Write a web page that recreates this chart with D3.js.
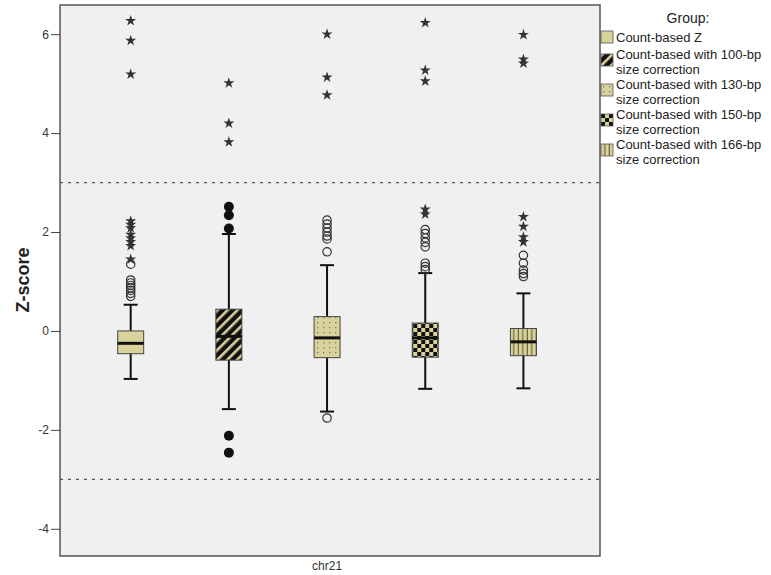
<!DOCTYPE html>
<html>
<head>
<meta charset="utf-8">
<script src="https://cdn.jsdelivr.net/npm/d3@7"></script>
<style>
  body { margin: 0; background: #fff; }
  svg { display: block; font-family: "Liberation Sans", Arial, sans-serif; }
</style>
</head>
<body>
<svg id="chart" width="771" height="575"></svg>
<script>
const groups = ['Count-based Z', 'Count-based with 100-bp size correction', 'Count-based with 130-bp size correction',
  'Count-based with 150-bp size correction', 'Count-based with 166-bp size correction'];
const patterns = ['plain', 'diag', 'dots', 'checker', 'vstripes'];
const q1 = [-0.46, -0.59, -0.54, -0.53, -0.50];
const medians = [-0.25, -0.11, -0.14, -0.14, -0.22];
const q3 = [0.0, 0.44, 0.29, 0.16, 0.05];
const whiskerLow = [-0.97, -1.58, -1.63, -1.17, -1.16];
const whiskerHigh = [0.53, 1.96, 1.33, 1.17, 0.76];
// outliers (circles) and extremes (stars), one list per group
const circles = [
  [1.35, 1.03, 0.97, 0.92, 0.87, 0.82, 0.76, 0.70],
  [],
  [2.24, 2.16, 2.08, 2.0, 1.92, 1.86, 1.60, -1.76],
  [2.05, 1.97, 1.88, 1.79, 1.70, 1.37, 1.30, 1.24],
  [1.53, 1.37, 1.23, 1.16, 1.10]
];
const filledCircles = [[], [2.51, 2.34, 2.07, -2.12, -2.46], [], [], []];
const stars = [
  [6.27, 5.87, 5.19, 2.22, 2.15, 2.08, 1.95, 1.88, 1.80, 1.72, 1.45],
  [5.01, 4.20, 3.82],
  [6.00, 5.13, 4.77],
  [6.23, 5.27, 5.05, 2.46, 2.36],
  [5.99, 5.49, 5.41, 2.31, 2.11, 1.90, 1.80]
];
const yTicks = [-4, -2, 0, 2, 4, 6];
const refLines = [3, -3];
const xLabel = 'chr21';

const fill = '#d9d29b';
const svg = d3.select('#chart');
const plot = { left: 60, right: 600, top: 5, bottom: 556 };

const y = d3.scaleLinear().domain([-4.55, 6.59]).range([plot.bottom, plot.top]);
const x = d3.scalePoint().domain(groups).range([plot.left, plot.right]).padding(0.75).align(0.48);

// patterns
const defs = svg.append('defs');
const pDiag = defs.append('pattern').attr('id', 'p-diag').attr('patternUnits', 'userSpaceOnUse')
  .attr('width', 7).attr('height', 7).attr('patternTransform', 'rotate(45)');
pDiag.append('rect').attr('width', 7).attr('height', 7).attr('fill', '#111');
pDiag.append('rect').attr('width', 2.6).attr('height', 7).attr('fill', fill);

const pDots = defs.append('pattern').attr('id', 'p-dots').attr('patternUnits', 'userSpaceOnUse')
  .attr('width', 6).attr('height', 5);
pDots.append('rect').attr('width', 6).attr('height', 5).attr('fill', fill);
pDots.append('rect').attr('x', 2).attr('y', 2).attr('width', 1.3).attr('height', 1.3).attr('fill', '#777');

const pChk = defs.append('pattern').attr('id', 'p-checker').attr('patternUnits', 'userSpaceOnUse')
  .attr('width', 8).attr('height', 8);
pChk.append('rect').attr('width', 8).attr('height', 8).attr('fill', fill);
pChk.append('rect').attr('width', 4).attr('height', 4).attr('fill', '#111');
pChk.append('rect').attr('x', 4).attr('y', 4).attr('width', 4).attr('height', 4).attr('fill', '#111');

const pVs = defs.append('pattern').attr('id', 'p-vstripes').attr('patternUnits', 'userSpaceOnUse')
  .attr('width', 4.5).attr('height', 4);
pVs.append('rect').attr('width', 4.5).attr('height', 4).attr('fill', fill);
pVs.append('rect').attr('x', 3.3).attr('width', 1.2).attr('height', 4).attr('fill', '#6b6740');

const fillFor = p => p === 'plain' ? fill : `url(#p-${p})`;

// plot area
svg.append('rect').attr('x', plot.left).attr('y', plot.top)
  .attr('width', plot.right - plot.left).attr('height', plot.bottom - plot.top)
  .attr('fill', '#f0f0f0').attr('stroke', '#555').attr('stroke-width', 1.5);

// y axis
const yAxis = svg.append('g').attr('transform', `translate(${plot.left},0)`)
  .call(d3.axisLeft(y).tickValues(yTicks).tickSize(9).tickFormat(d => String(d)));
yAxis.select('.domain').remove();
yAxis.selectAll('line').attr('stroke', '#444');
yAxis.selectAll('text').attr('fill', '#333').style('font-size', '12px').attr('x', -11);

svg.append('text').attr('transform', 'translate(29,280) rotate(-90)')
  .attr('text-anchor', 'middle').style('font-size', '18px').style('font-weight', 'bold').attr('fill', '#222')
  .text('Z-score');

svg.append('text').attr('x', x(groups[2])).attr('y', 570).attr('text-anchor', 'middle')
  .style('font-size', '12px').attr('fill', '#333').text(xLabel);

// reference lines
svg.selectAll('.ref').data(refLines).enter().append('line')
  .attr('x1', plot.left).attr('x2', plot.right)
  .attr('y1', d => y(d)).attr('y2', d => y(d))
  .attr('stroke', '#555').attr('stroke-width', 1.3).attr('stroke-dasharray', '3,5');

// boxes
const bw = 26, cap = 12;
const g = svg.selectAll('.box').data(groups).enter().append('g')
  .attr('transform', d => `translate(${x(d)},0)`);

g.append('line').attr('y1', (d, i) => y(whiskerLow[i])).attr('y2', (d, i) => y(whiskerHigh[i]))
  .attr('stroke', '#111').attr('stroke-width', 2);
g.append('line').attr('x1', -cap / 2 - 1).attr('x2', cap / 2 + 1)
  .attr('y1', (d, i) => y(whiskerHigh[i])).attr('y2', (d, i) => y(whiskerHigh[i]))
  .attr('stroke', '#111').attr('stroke-width', 2);
g.append('line').attr('x1', -cap / 2 - 1).attr('x2', cap / 2 + 1)
  .attr('y1', (d, i) => y(whiskerLow[i])).attr('y2', (d, i) => y(whiskerLow[i]))
  .attr('stroke', '#111').attr('stroke-width', 2);
g.append('rect').attr('x', -bw / 2).attr('width', bw)
  .attr('y', (d, i) => y(q3[i])).attr('height', (d, i) => y(q1[i]) - y(q3[i]))
  .attr('fill', (d, i) => fillFor(patterns[i])).attr('stroke', '#444').attr('stroke-width', 1);
g.append('line').attr('x1', -bw / 2).attr('x2', bw / 2)
  .attr('y1', (d, i) => y(medians[i])).attr('y2', (d, i) => y(medians[i]))
  .attr('stroke', '#111').attr('stroke-width', 3);

// outliers
g.each(function (d, i) {
  const gg = d3.select(this);
  gg.selectAll('.c').data(circles[i]).enter().append('circle')
    .attr('cy', v => y(v)).attr('r', 4.2)
    .attr('fill', 'none').attr('stroke', '#333').attr('stroke-width', 1.2);
  gg.selectAll('.f').data(filledCircles[i]).enter().append('circle')
    .attr('cy', v => y(v)).attr('r', 5).attr('fill', '#111');
  gg.selectAll('.s').data(stars[i]).enter().append('path')
    .attr('transform', v => `translate(0,${y(v)})`)
    .attr('d', d3.symbol().type(d3.symbolStar).size(38))
    .attr('fill', '#333');
});

// legend
const lg = svg.append('g').attr('transform', 'translate(601,0)');
lg.append('text').attr('x', 87).attr('y', 23).attr('text-anchor', 'middle')
  .style('font-size', '14px').attr('fill', '#222').text('Group:');
const itemTop = i => i === 0 ? 31 : 54 + (i - 1) * 30;
const items = lg.selectAll('.item').data(groups).enter().append('g')
  .attr('transform', (d, i) => `translate(0,${itemTop(i)})`);
items.append('rect').attr('x', 0).attr('y', 0).attr('width', 12).attr('height', 12)
  .attr('fill', (d, i) => fillFor(patterns[i])).attr('stroke', '#555').attr('stroke-width', 0.8);
items.each(function (d, i) {
  const parts = d.replace(' size', '|size').split('|');
  parts.forEach((p, k) => d3.select(this).append('text')
    .attr('x', 15).attr('y', (i === 0 ? 11 : 5) + k * 14.6)
    .style('font-size', '13px').attr('fill', '#222').text(p));
});
</script>
</body>
</html>
